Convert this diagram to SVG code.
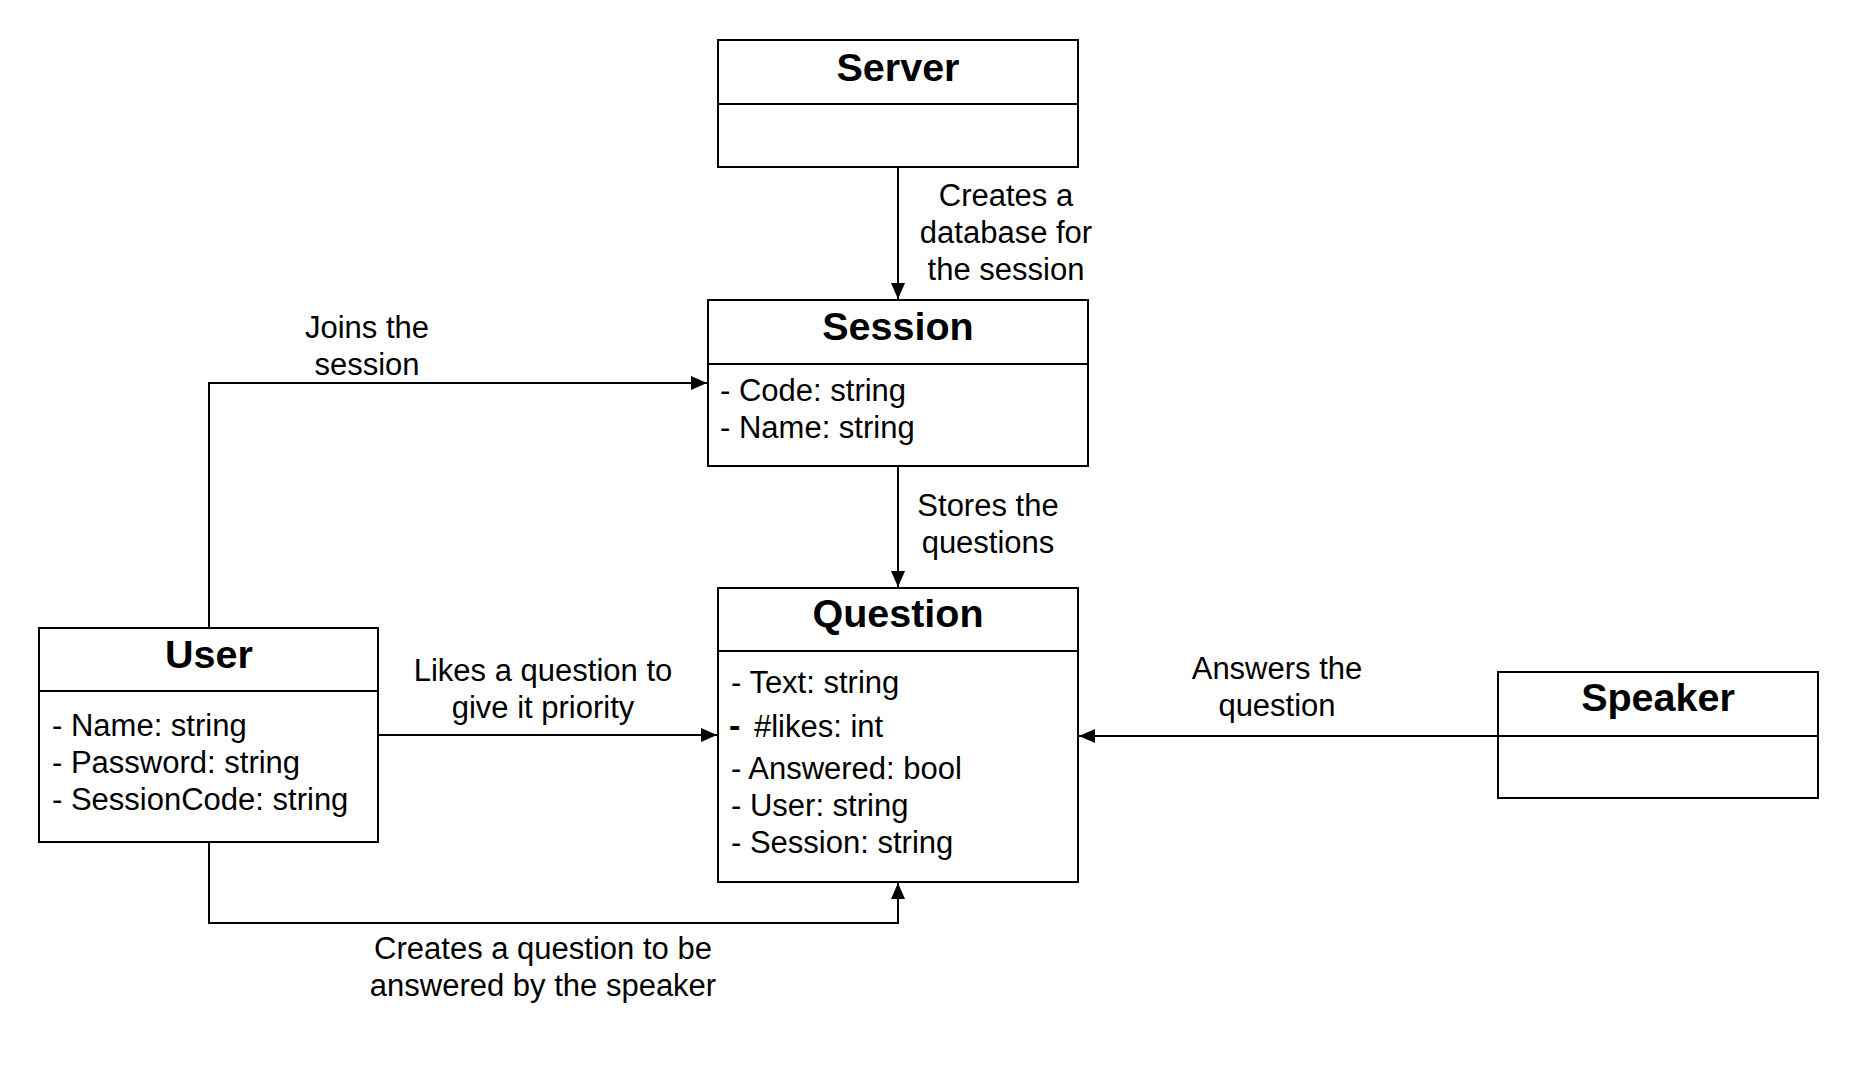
<svg xmlns="http://www.w3.org/2000/svg" width="1858" height="1068" viewBox="0 0 1858 1068">
<style>
.box{fill:#fff;stroke:#000;stroke-width:2}
.div{stroke:#000;stroke-width:2}
.title{font-family:"Liberation Sans",Arial,sans-serif;font-weight:bold;font-size:39.5px;text-anchor:middle;fill:#000}
.attr{font-family:"Liberation Sans",Arial,sans-serif;font-size:31px;fill:#000}
.lbl{font-family:"Liberation Sans",Arial,sans-serif;font-size:31px;text-anchor:middle;fill:#000}
.con{fill:none;stroke:#000;stroke-width:2;marker-end:url(#arr)}
</style>
<defs>
<marker id="arr" markerUnits="userSpaceOnUse" markerWidth="18" markerHeight="16" refX="16" refY="7" orient="auto">
<path d="M0,0 L16,7 L0,14 z" fill="#000"/>
</marker>
</defs>
<rect width="1858" height="1068" fill="#fff"/>
<g id="connectors">
<path class="con" d="M898,167 V299"/>
<path class="con" d="M898,466 V587"/>
<path class="con" d="M209,628 V383 H707"/>
<path class="con" d="M378,735 H717"/>
<path class="con" d="M209,842 V923 H898 V883"/>
<path class="con" d="M1498,736 H1079"/>
</g>
<g id="labels">
<text class="lbl" x="1006" y="206">Creates a</text>
<text class="lbl" x="1006" y="243">database for</text>
<text class="lbl" x="1006" y="280">the session</text>
<text class="lbl" x="988" y="516">Stores the</text>
<text class="lbl" x="988" y="553">questions</text>
<text class="lbl" x="367" y="338">Joins the</text>
<text class="lbl" x="367" y="375">session</text>
<text class="lbl" x="543" y="681">Likes a question to</text>
<text class="lbl" x="543" y="718">give it priority</text>
<text class="lbl" x="1277" y="679">Answers the</text>
<text class="lbl" x="1277" y="716">question</text>
<text class="lbl" x="543" y="959">Creates a question to be</text>
<text class="lbl" x="543" y="996">answered by the speaker</text>
</g>
<g id="server">
<rect class="box" x="718" y="40" width="360" height="127"/>
<line class="div" x1="718" y1="104" x2="1078" y2="104"/>
<text class="title" x="898" y="81">Server</text>
</g>
<g id="session">
<rect class="box" x="708" y="300" width="380" height="166"/>
<line class="div" x1="708" y1="364" x2="1088" y2="364"/>
<text class="title" x="898" y="340">Session</text>
<text class="attr" x="720" y="401">- Code: string</text>
<text class="attr" x="720" y="438">- Name: string</text>
</g>
<g id="question">
<rect class="box" x="718" y="588" width="360" height="294"/>
<line class="div" x1="718" y1="651" x2="1078" y2="651"/>
<text class="title" x="898" y="627">Question</text>
<text class="attr" x="731" y="693">- Text: string</text>
<text class="attr" x="729" y="737"><tspan font-weight="bold" font-size="34px">-</tspan><tspan dx="5"> #likes: int</tspan></text>
<text class="attr" x="731" y="779">- Answered: bool</text>
<text class="attr" x="731" y="816">- User: string</text>
<text class="attr" x="731" y="853">- Session: string</text>
</g>
<g id="user">
<rect class="box" x="39" y="628" width="339" height="214"/>
<line class="div" x1="39" y1="691" x2="378" y2="691"/>
<text class="title" x="209" y="668">User</text>
<text class="attr" x="52" y="736">- Name: string</text>
<text class="attr" x="52" y="773">- Password: string</text>
<text class="attr" x="52" y="810">- SessionCode: string</text>
</g>
<g id="speaker">
<rect class="box" x="1498" y="672" width="320" height="126"/>
<line class="div" x1="1498" y1="736" x2="1818" y2="736"/>
<text class="title" x="1658" y="711">Speaker</text>
</g>
</svg>
